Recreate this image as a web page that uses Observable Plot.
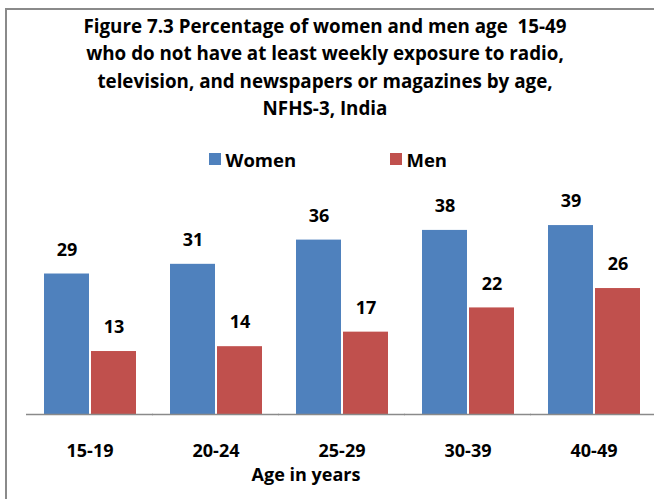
<!DOCTYPE html>
<html>
<head>
<meta charset="utf-8">
<script src="https://cdn.jsdelivr.net/npm/d3@7"></script>
<script src="https://cdn.jsdelivr.net/npm/@observablehq/plot@0.6"></script>
<style>
  html, body { margin: 0; padding: 0; background: #fff; }
  body { width: 654px; height: 499px; position: relative; overflow: hidden;
         font-family: "Open Sans", Lato, sans-serif; font-weight: bold; color: #000; }
  #frame { position: absolute; left: 5px; top: 8px; width: 700px; height: 520px;
           border-left: 2px solid #8a8a8a; border-top: 2px solid #8a8a8a; }
  #title { position: absolute; left: 0; top: 13px; width: 650px; text-align: center;
           font-size: 18.8px; line-height: 27.4px; white-space: pre; }
  #legend { position: absolute; top: 148px; left: 0; width: 654px; height: 22px; font-size: 18.5px; }
  .item { position: absolute; top: 0; display: flex; align-items: center; height: 22px; }
  .sw { width: 11.5px; height: 11.5px; margin-right: 5px; }
  #chart { position: absolute; left: 0; top: 170px; }
  #xlabel { position: absolute; left: 206px; width: 200px; text-align: center; top: 465px;
            font-size: 18px; line-height: 18px; }
</style>
</head>
<body>
<div id="frame"></div>
<div id="title"></div>
<div id="legend"></div>
<div id="chart"></div>
<div id="xlabel"></div>
<script>
const titleLines = [
  "Figure 7.3 Percentage of women and men age  15-49",
  "who do not have at least weekly exposure to radio,",
  "television, and newspapers or magazines by age,",
  "NFHS-3, India"
];
const ages = ["15-19", "20-24", "25-29", "30-39", "40-49"];
const series = ["Women", "Men"];
const women = [29, 31, 36, 38, 39];
const men = [13, 14, 17, 22, 26];
const colors = ["#4F81BD", "#C0504D"];
const xTitle = "Age in years";

document.getElementById("title").textContent = titleLines.join("\n");
document.getElementById("xlabel").textContent = xTitle;

const legend = document.getElementById("legend");
const legendLeft = [209, 390];
series.forEach((s, i) => {
  const it = document.createElement("div");
  it.className = "item";
  it.style.left = legendLeft[i] + "px";
  const sw = document.createElement("span");
  sw.className = "sw";
  sw.style.background = colors[i];
  const tx = document.createElement("span");
  tx.textContent = s;
  it.appendChild(sw); it.appendChild(tx);
  legend.appendChild(it);
});

const data = [];
ages.forEach((a, i) => {
  data.push({age: a, sex: "Women", value: women[i]});
  data.push({age: a, sex: "Men", value: men[i]});
});

const fontFam = "'Open Sans', Lato, sans-serif";

const chart = Plot.plot({
  width: 654,
  height: 290,
  marginLeft: 27,
  marginRight: -3,
  marginTop: 26,
  marginBottom: 46,
  style: {fontFamily: fontFam, fontWeight: "bold", fontSize: "18px", color: "#000", background: "transparent", overflow: "visible"},
  fx: {domain: ages, paddingInner: 0.26, paddingOuter: 0.13, label: null, tickSize: 0, tickPadding: 30},
  x: {domain: series, paddingInner: 0.05, paddingOuter: 0, axis: null},
  y: {domain: [0, 45], axis: null},
  color: {domain: series, range: colors},
  marks: [
    Plot.barY(data, {fx: "age", x: "sex", y: "value", fill: "sex"}),
    Plot.text(data, {fx: "age", x: "sex", y: "value", text: d => String(d.value), dy: -24,
                     fontWeight: "bold", fontSize: 18, fill: "#000"}),
    Plot.ruleY([0], {stroke: "#8a8a8a", strokeWidth: 1.5, insetLeft: -17, insetRight: -17})
  ]
});
document.getElementById("chart").appendChild(chart);
</script>
</body>
</html>
